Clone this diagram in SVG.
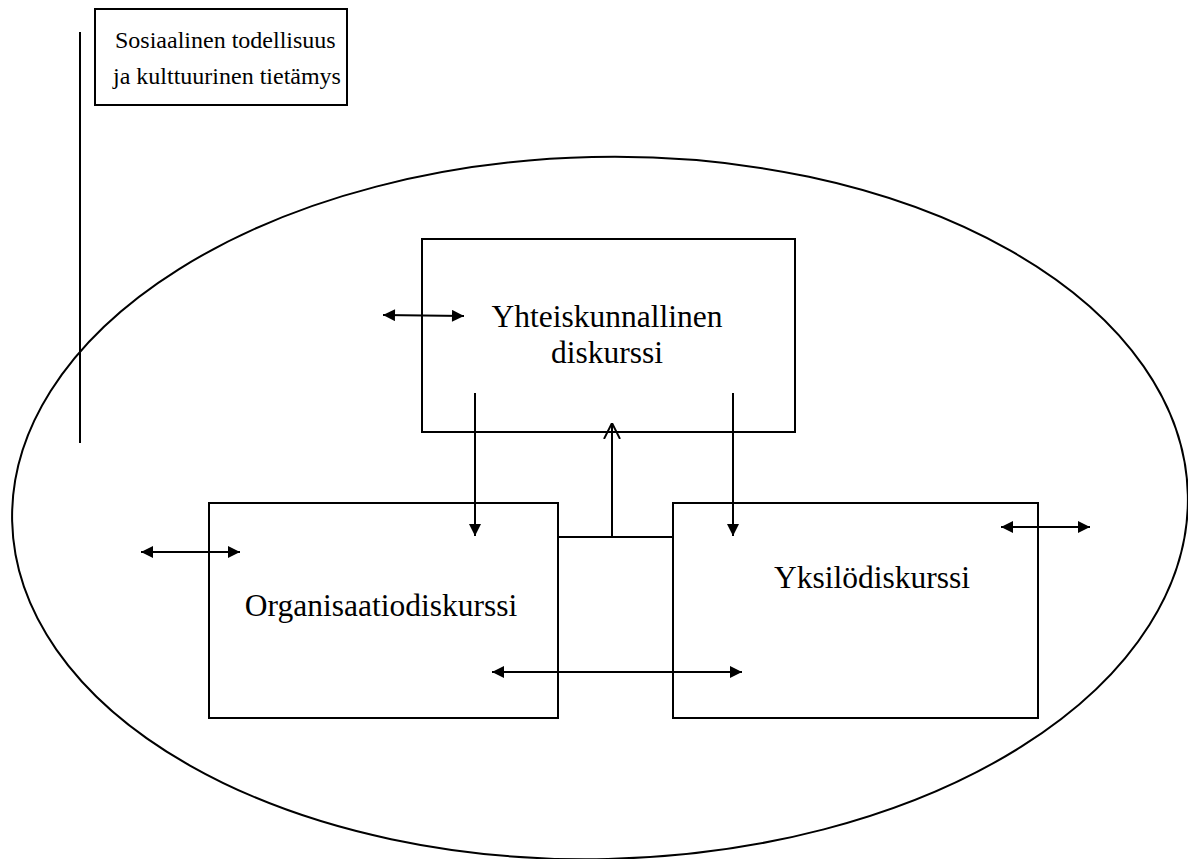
<svg xmlns="http://www.w3.org/2000/svg" width="1188" height="859" viewBox="0 0 1188 859">
<style>
.s{fill:none;stroke:#000;stroke-width:2}
.b{fill:#fff;stroke:#000;stroke-width:2}
text{font-family:"Liberation Serif","Times New Roman",serif;font-size:31.5px;fill:#000}
text.sm{font-size:24px}
</style>
<defs>
<marker id="ah" viewBox="0 0 10 10" refX="10" refY="5" markerWidth="16" markerHeight="12" markerUnits="userSpaceOnUse" orient="auto-start-reverse"><path d="M0,0L10,5L0,10z" fill="#000"/></marker>
<marker id="open" viewBox="0 0 10 10" refX="10" refY="5" markerWidth="16" markerHeight="22" markerUnits="userSpaceOnUse" orient="auto"><path d="M0,0L10,5L0,10" fill="none" stroke="#000" stroke-width="1.2"/></marker>
</defs>
<rect width="1188" height="859" fill="#fff"/>
<g id="context">
<line class="s" x1="80" y1="32" x2="80" y2="443"/>
<rect class="b" x="95" y="9" width="252" height="96"/>
<text class="sm" x="115" y="48">Sosiaalinen todellisuus</text>
<text class="sm" x="113" y="84">ja kulttuurinen tietämys</text>
</g>
<g id="ellipse">
<ellipse class="s" cx="600" cy="508" rx="588" ry="351" transform="rotate(-1.3 600 508)"/>
</g>
<g id="yhteiskunnallinen">
<rect class="b" x="422" y="239" width="373" height="193"/>
<text x="607" y="327" text-anchor="middle">Yhteiskunnallinen</text>
<text x="607" y="363" text-anchor="middle">diskurssi</text>
</g>
<g id="organisaatio">
<rect class="b" x="209" y="503" width="349" height="215"/>
<text x="381" y="616" text-anchor="middle">Organisaatiodiskurssi</text>
</g>
<g id="yksilo">
<rect class="b" x="673" y="503" width="365" height="215"/>
<text x="872" y="588" text-anchor="middle">Yksilödiskurssi</text>
</g>
<g id="connectors">
<line class="s" x1="475" y1="393" x2="475" y2="536" marker-end="url(#ah)"/>
<line class="s" x1="733" y1="393" x2="733" y2="536" marker-end="url(#ah)"/>
<line class="s" x1="558" y1="537" x2="673" y2="537"/>
<line class="s" x1="612" y1="537" x2="612" y2="423" marker-end="url(#open)"/>
<line class="s" x1="383" y1="315" x2="464" y2="316" marker-start="url(#ah)" marker-end="url(#ah)"/>
<line class="s" x1="141" y1="552" x2="240" y2="552" marker-start="url(#ah)" marker-end="url(#ah)"/>
<line class="s" x1="492" y1="672" x2="742" y2="672" marker-start="url(#ah)" marker-end="url(#ah)"/>
<line class="s" x1="1001" y1="527" x2="1090" y2="527" marker-start="url(#ah)" marker-end="url(#ah)"/>
</g>
</svg>
